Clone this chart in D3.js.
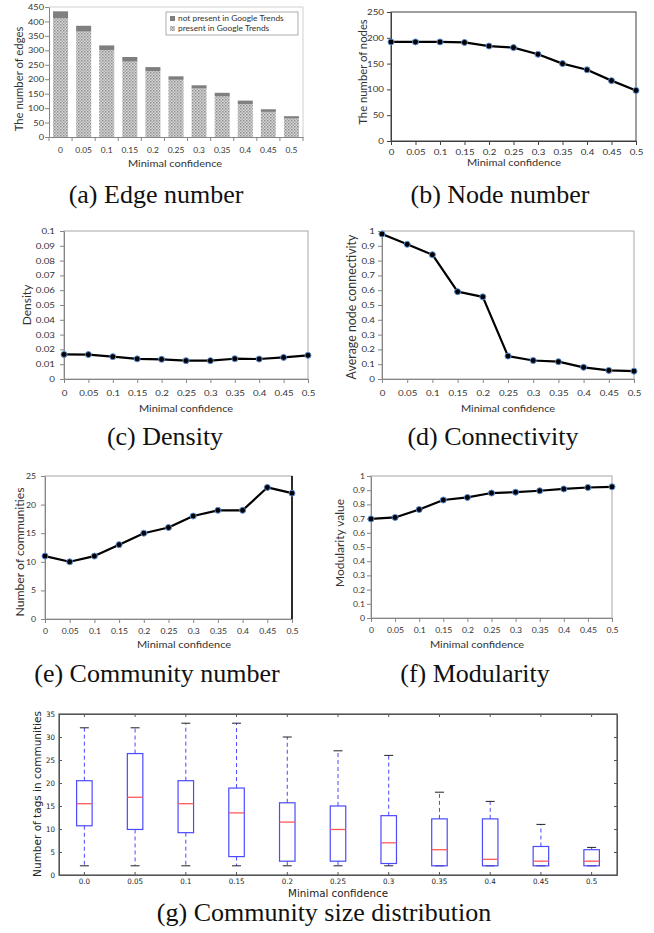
<!DOCTYPE html>
<html>
<head>
<meta charset="utf-8">
<script src="https://cdn.jsdelivr.net/npm/d3@7/dist/d3.min.js"></script>
<style>
  body { margin: 0; background: #ffffff; }
  svg { display: block; }
</style>
</head>
<body>
<svg id="fig" width="654" height="933"></svg>
<script>
// ---- data ----
const confidence = [0, 0.05, 0.1, 0.15, 0.2, 0.25, 0.3, 0.35, 0.4, 0.45, 0.5];
const confLabels = ["0", "0.05", "0.1", "0.15", "0.2", "0.25", "0.3", "0.35", "0.4", "0.45", "0.5"];

// (a) edges, stacked
const edgesPresent = [411, 365, 301, 261, 228, 198, 168, 141, 114, 87, 64];
const edgesNotPresent = [24, 20, 16, 16, 14, 12, 11, 12, 12, 9, 8];
const legendLabels = ["not present in Google Trends", "present in Google Trends"];

// (b)-(f) line series
const nodes = [192, 192, 192, 191, 184, 181, 168, 150, 138, 117, 98];
const density = [0.0166, 0.0165, 0.0151, 0.0136, 0.0133, 0.0124, 0.0124, 0.0137, 0.0135, 0.0146, 0.016];
const connectivity = [0.98, 0.91, 0.84, 0.59, 0.555, 0.155, 0.125, 0.117, 0.079, 0.058, 0.053];
const communities = [11, 10, 11, 13, 15, 16, 18, 19, 19, 23, 22];
const modularity = [0.698, 0.708, 0.764, 0.831, 0.849, 0.880, 0.886, 0.896, 0.909, 0.919, 0.924];

// (g) box plot stats
const boxLabels = ["0.0", "0.05", "0.1", "0.15", "0.2", "0.25", "0.3", "0.35", "0.4", "0.45", "0.5"];
const whiskerLow = [2, 2, 2, 2, 2, 2, 2, 2, 2, 2, 2];
const quart1 = [10.7, 9.9, 9.2, 4, 3, 3, 2.5, 2, 2, 2, 2];
const medians = [15.5, 16.9, 15.5, 13.5, 11.5, 9.9, 7, 5.5, 3.4, 3, 3];
const quart3 = [20.5, 26.4, 20.5, 18.9, 15.7, 15, 12.9, 12.2, 12.2, 6.2, 5.5];
const whiskerHigh = [32, 32, 33, 33, 30, 27, 26, 18, 16, 11, 6];

const captions = ["(a) Edge number", "(b) Node number", "(c) Density", "(d) Connectivity",
  "(e) Community number", "(f) Modularity", "(g) Community size distribution"];

const svg = d3.select("#fig");
const XL_FONT = "Lato, 'Open Sans', sans-serif";
const MPL_FONT = "'DejaVu Sans', sans-serif";
const TEXT_COL = "#333333";
const AXIS_COL = "#868686";

// stretch text horizontally around its anchor (the Excel panels are scaled non-uniformly)
function stretch(sel, sx) {
  sel.each(function () {
    const t = d3.select(this);
    const x = +t.attr("x") || 0;
    t.attr("x", x / sx).attr("transform", "scale(" + sx + ",1)");
  });
}

function label(g, x, y, str, o) {
  o = o || {};
  const tr = o.rotate ? "translate(" + x + "," + y + ") rotate(-90)"
                      : "translate(" + x + "," + y + ") scale(" + (o.sx || 1) + ",1)";
  return g.append("text")
    .attr("transform", tr)
    .attr("text-anchor", o.anchor || "middle")
    .attr("dy", o.rotate ? "0.35em" : null)
    .attr("font-family", o.font || XL_FONT)
    .attr("font-size", o.size || 10)
    .attr("fill", o.fill || TEXT_COL)
    .text(str);
}

function styleAxis(ax, col, font, size, sx) {
  ax.select(".domain").attr("stroke", col);
  ax.selectAll(".tick line").attr("stroke", col);
  ax.attr("font-family", font).attr("font-size", size);
  ax.selectAll(".tick text").attr("fill", TEXT_COL);
  if (sx) stretch(ax.selectAll(".tick text"), sx);
}

// ---------------- (a) stacked bars ----------------
(function () {
  const L = 49, R = 303, T = 7, B = 137;
  const g = svg.append("g");
  const defs = svg.append("defs");
  const pat = defs.append("pattern").attr("id", "hatch")
    .attr("width", 3).attr("height", 3).attr("patternUnits", "userSpaceOnUse");
  pat.append("rect").attr("width", 3).attr("height", 3).attr("fill", "#d6d6d6");
  pat.append("rect").attr("width", 1.5).attr("height", 1.5).attr("fill", "#8f8f8f");
  pat.append("rect").attr("x", 1.5).attr("y", 1.5).attr("width", 1.5).attr("height", 1.5).attr("fill", "#a8a8a8");

  const x = d3.scaleBand().domain(confLabels).range([L, R]).paddingInner(0.35).paddingOuter(0.175);
  const y = d3.scaleLinear().domain([0, 450]).range([B, T]);

  // light plot-area border
  g.append("path").attr("d", "M" + L + "," + T + "H" + R + "V" + B)
    .attr("fill", "none").attr("stroke", "#cfcfcf");

  const ya = g.append("g").attr("transform", "translate(" + L + ",0)")
    .call(d3.axisLeft(y).tickValues(d3.range(0, 451, 50)).tickSize(4).tickSizeOuter(0).tickPadding(1));
  styleAxis(ya, AXIS_COL, XL_FONT, 8, 1.15);

  const xa = g.append("g").attr("transform", "translate(0," + B + ")")
    .call(d3.axisBottom(x).tickSize(0).tickSizeOuter(0).tickPadding(10));
  styleAxis(xa, AXIS_COL, XL_FONT, 8, 1.05);
  // category-boundary tick marks
  const step = x.step();
  xa.selectAll(".sep").data(confLabels.concat(["end"])).join("line")
    .attr("class", "sep")
    .attr("x1", (d, i) => L + i * step)
    .attr("x2", (d, i) => L + i * step)
    .attr("y1", 0).attr("y2", 4).attr("stroke", AXIS_COL);

  const stacked = confLabels.map((c, i) => ({ c: c, p: edgesPresent[i], n: edgesNotPresent[i] }));
  g.selectAll(".present").data(stacked).join("rect")
    .attr("x", d => x(d.c)).attr("width", x.bandwidth())
    .attr("y", d => y(d.p)).attr("height", d => y(0) - y(d.p))
    .attr("fill", "url(#hatch)");
  g.selectAll(".notp").data(stacked).join("rect")
    .attr("x", d => x(d.c)).attr("width", x.bandwidth())
    .attr("y", d => y(d.p + d.n)).attr("height", d => y(d.p) - y(d.p + d.n))
    .attr("fill", "#7f7f7f");

  // legend
  const lg = g.append("g").attr("transform", "translate(166,12)");
  lg.append("rect").attr("width", 132).attr("height", 23).attr("fill", "#fff").attr("stroke", "#9a9a9a").attr("stroke-width", 0.8);
  legendLabels.forEach((t, i) => {
    lg.append("rect").attr("x", 4).attr("y", 4 + i * 10).attr("width", 5).attr("height", 5)
      .attr("fill", i === 0 ? "#7f7f7f" : "url(#hatch)");
    label(lg, 12, 9.3 + i * 10, t, { anchor: "start", size: 8, sx: 1.05 });
  });

  label(g, 175, 166.5, "Minimal confidence", { size: 10, sx: 1.1 });
  label(g, 19, 79, "The number of edges", { rotate: true, size: 11.3 });
})();

// ---------------- (b)-(f) line panels ----------------
function linePanel(p) {
  const g = svg.append("g");
  const x = d3.scaleLinear().domain([0, 0.5]).range([p.L, p.R]);
  const y = d3.scaleLinear().domain([0, p.yMax]).range([p.B, p.T]);

  g.append("rect").attr("x", p.L).attr("y", p.T).attr("width", p.R - p.L).attr("height", p.B - p.T)
    .attr("fill", "none").attr("stroke", p.frame);
  if (p.rightCol) {
    g.append("line").attr("x1", p.R).attr("x2", p.R).attr("y1", p.T).attr("y2", p.B)
      .attr("stroke", p.rightCol).attr("stroke-width", 1.6);
  }

  const ya = g.append("g").attr("transform", "translate(" + p.L + ",0)")
    .call(d3.axisLeft(y).tickValues(d3.range(0, p.yMax + p.step / 2, p.step))
      .tickFormat(d3.format(p.fmt)).tickSize(4).tickSizeOuter(0).tickPadding(p.yPad));
  styleAxis(ya, p.axis, XL_FONT, 7.5, p.sx);

  const xa = g.append("g").attr("transform", "translate(0," + p.B + ")")
    .call(d3.axisBottom(x).tickValues(confidence).tickFormat((d, i) => confLabels[i])
      .tickSize(4).tickSizeOuter(0).tickPadding(p.xPad));
  styleAxis(xa, p.axis, XL_FONT, 7.5, p.sx);

  const pts = confidence.map((c, i) => [c, p.values[i]]);
  g.append("path").datum(pts)
    .attr("d", d3.line().x(d => x(d[0])).y(d => y(d[1])))
    .attr("fill", "none").attr("stroke", "#000").attr("stroke-width", 2.2).attr("stroke-linejoin", "round");
  g.selectAll("circle").data(pts).join("circle")
    .attr("cx", d => x(d[0])).attr("cy", d => y(d[1])).attr("r", 3)
    .attr("fill", "#000").attr("stroke", "#5d8fd6").attr("stroke-width", 1);

  label(g, p.xtX, p.xtY, "Minimal confidence", { size: 10, sx: p.tsx });
  label(g, p.ytX, p.ytY, p.yTitle, { rotate: true, size: p.ytSize });
}

linePanel({ L: 391, R: 636, T: 12, B: 141, yMax: 250, step: 50, fmt: "d", values: nodes,
  frame: "#404040", axis: "#404040", sx: 1.3, yPad: 3, xPad: 5, tsx: 1.1,
  xtX: 514, xtY: 166, ytX: 363, ytY: 72, yTitle: "The number of nodes", ytSize: 11.3 });

linePanel({ L: 64, R: 308, T: 231, B: 379, yMax: 0.1, step: 0.01, fmt: ".2~f", values: density,
  frame: "#a6a6a6", axis: AXIS_COL, sx: 1.3, yPad: 5, xPad: 8, tsx: 1.1,
  xtX: 186, xtY: 412, ytX: 27, ytY: 305, yTitle: "Density", ytSize: 12 });

linePanel({ L: 382, R: 634, T: 231, B: 379, yMax: 1, step: 0.1, fmt: ".1~f", values: connectivity,
  frame: "#a6a6a6", axis: AXIS_COL, sx: 1.3, yPad: 3, xPad: 8, tsx: 1.1,
  xtX: 508, xtY: 412, ytX: 352, ytY: 307, yTitle: "Average node connectivity", ytSize: 12.4 });

linePanel({ L: 45, R: 292, T: 476, B: 619, yMax: 25, step: 5, fmt: "d", values: communities,
  frame: "#a6a6a6", axis: AXIS_COL, rightCol: "#000", sx: 1.15, yPad: 5, xPad: 6, tsx: 1.1,
  xtX: 184, xtY: 648, ytX: 20, ytY: 552, yTitle: "Number of communities", ytSize: 12.2 });

linePanel({ L: 371, R: 612, T: 476, B: 618, yMax: 1, step: 0.1, fmt: ".1~f", values: modularity,
  frame: "#a6a6a6", axis: AXIS_COL, sx: 1.15, yPad: 2, xPad: 6, tsx: 1.1,
  xtX: 477, xtY: 648, ytX: 340, ytY: 543, yTitle: "Modularity value", ytSize: 12 });

// ---------------- (g) box plot ----------------
(function () {
  const L = 59, R = 617, T = 714, B = 875;
  const g = svg.append("g");
  const x = d3.scaleBand().domain(boxLabels).range([L, R]);
  const y = d3.scaleLinear().domain([0, 35]).range([B, T]);
  const bw = 15.5, cw = 9;
  const stats = boxLabels.map((k, i) => ({ k: k, lo: whiskerLow[i], q1: quart1[i], md: medians[i], q3: quart3[i], hi: whiskerHigh[i] }));
  const cx = d => x(d.k) + x.bandwidth() / 2;

  const yt = d3.range(0, 36, 5);
  const axL = g.append("g").attr("transform", "translate(" + L + ",0)")
    .call(d3.axisLeft(y).tickValues(yt).tickSize(-3).tickSizeOuter(0).tickPadding(4));
  const axR = g.append("g").attr("transform", "translate(" + R + ",0)")
    .call(d3.axisRight(y).tickValues(yt).tickSize(-3).tickSizeOuter(0).tickFormat(""));
  const axB = g.append("g").attr("transform", "translate(0," + B + ")")
    .call(d3.axisBottom(x).tickSize(-3).tickSizeOuter(0).tickPadding(4));
  const axT = g.append("g").attr("transform", "translate(0," + T + ")")
    .call(d3.axisTop(x).tickSize(-3).tickSizeOuter(0).tickFormat(""));
  [axL, axR, axB, axT].forEach(a => styleAxis(a, "#555", MPL_FONT, 7.5, 0.95));
  axL.selectAll(".tick text").attr("fill", "#222");
  axB.selectAll(".tick text").attr("fill", "#222");
  g.append("rect").attr("x", L).attr("y", T).attr("width", R - L).attr("height", B - T)
    .attr("fill", "none").attr("stroke", "#555").attr("stroke-width", 1.2);

  // whiskers
  g.selectAll(".wu").data(stats).join("line")
    .attr("x1", cx).attr("x2", cx).attr("y1", d => y(d.q3)).attr("y2", d => y(d.hi))
    .attr("stroke", "#4a4aff").attr("stroke-dasharray", "4,3");
  g.selectAll(".wl").data(stats).join("line")
    .attr("x1", cx).attr("x2", cx).attr("y1", d => y(d.q1)).attr("y2", d => y(d.lo))
    .attr("stroke", "#4a4aff").attr("stroke-dasharray", "4,3");
  // caps
  ["hi", "lo"].forEach(key => {
    g.selectAll(".cap" + key).data(stats).join("line")
      .attr("x1", d => cx(d) - cw / 2).attr("x2", d => cx(d) + cw / 2)
      .attr("y1", d => y(d[key])).attr("y2", d => y(d[key]))
      .attr("stroke", "#222").attr("stroke-width", 1);
  });
  // boxes
  g.selectAll(".box").data(stats).join("rect")
    .attr("x", d => cx(d) - bw / 2).attr("width", bw)
    .attr("y", d => y(d.q3)).attr("height", d => y(d.q1) - y(d.q3))
    .attr("fill", "none").attr("stroke", "#4a4aff").attr("stroke-width", 1.2);
  // medians
  g.selectAll(".med").data(stats).join("line")
    .attr("x1", d => cx(d) - bw / 2).attr("x2", d => cx(d) + bw / 2)
    .attr("y1", d => y(d.md)).attr("y2", d => y(d.md))
    .attr("stroke", "#ff5a5a").attr("stroke-width", 1.3);

  label(g, 338, 897, "Minimal confidence", { font: MPL_FONT, size: 10.3, fill: "#222" });
  label(g, 37, 794, "Number of tags in communities", { rotate: true, font: MPL_FONT, size: 10.5, fill: "#222" });
})();

// ---------------- captions ----------------
const capPos = [[156, 203], [500, 203], [165, 445], [493, 445], [157, 682], [475, 682], [324, 921]];
svg.selectAll(".caption").data(captions).join("text")
  .attr("class", "caption")
  .attr("x", (d, i) => capPos[i][0]).attr("y", (d, i) => capPos[i][1])
  .attr("text-anchor", "middle")
  .attr("font-family", "'Liberation Serif', 'Times New Roman', serif")
  .attr("font-size", 26)
  .attr("fill", "#111")
  .text(d => d);
</script>
</body>
</html>
